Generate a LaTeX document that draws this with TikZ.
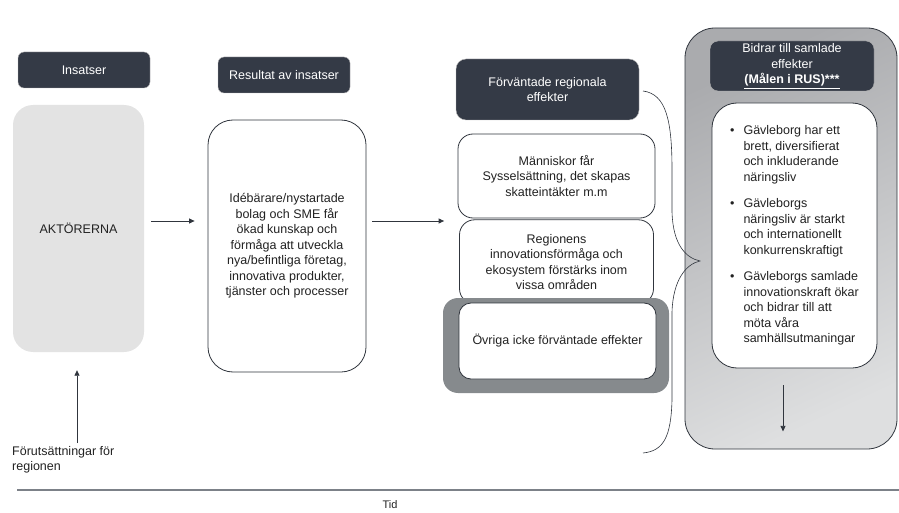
\documentclass[tikz,border=0pt]{standalone}
\usepackage{fontspec}
\setmainfont{Liberation Sans}
\usetikzlibrary{arrows.meta,positioning}
\definecolor{boxdark}{HTML}{343A46}
\definecolor{linedark}{HTML}{30353D}
\definecolor{textdark}{HTML}{222222}
\definecolor{actorgray}{HTML}{E3E3E3}
\definecolor{framegray}{HTML}{868A8D}
\definecolor{axisgray}{HTML}{7C8188}
\definecolor{shadedark}{HTML}{AAABAE}
\definecolor{shadelight}{HTML}{DEDFE0}

\begin{document}
\begin{tikzpicture}[x=1pt,y=-1pt,
    every node/.style={font=\fontsize{12.5}{15.5}\selectfont,text=textdark},
    headbox/.style={fill=boxdark,draw=black!28,rounded corners=6pt,
      text=white,align=center,inner sep=0pt},
    stagebox/.style={fill=white,draw=linedark,line width=0.8pt,
      align=center,inner sep=0pt},
    flow/.style={draw=linedark,line width=0.8pt,
      -{Triangle[length=5.5pt,width=5pt]}}]
  \useasboundingbox (0,0) rectangle (899,513);

  % The large shaded column on the right holds the overall effects.
  \node[draw=linedark,line width=0.8pt,rounded corners=30pt,
    shading=axis,top color=shadedark,bottom color=shadelight,
    shading angle=25,minimum width=212pt,minimum height=421pt]
    (samlad) at (791,238.5) {};

  % Column headings.
  \node[headbox,minimum width=132pt,minimum height=36pt]
    (insatser) at (84,70) {Insatser};
  \node[headbox,minimum width=132pt,minimum height=36pt]
    (resultat) at (284,75) {Resultat av insatser};
  \node[headbox,rounded corners=10pt,minimum width=183pt,minimum height=61pt]
    (forv) at (547.5,89.5) {Förväntade regionala\\effekter};
  \node[headbox,rounded corners=8pt,minimum width=164pt,minimum height=50pt]
    (bidrar) at (792,66)
    {Bidrar till samlade\\effekter\\\textbf{\underline{(Målen i RUS)***}}};

  % The actors, and what their work leads to.
  \node[fill=actorgray,rounded corners=20pt,inner sep=0pt,
    minimum width=131pt,minimum height=247pt]
    (akt) at (78.5,228.5) {AKTÖRERNA};
  \node[stagebox,rounded corners=25pt,minimum width=158pt,minimum height=252pt]
    (ide) at (287,246)
    {Idébärare/nystartade\\bolag och SME får\\ökad kunskap och\\förmåga att utveckla\\
     nya/befintliga företag,\\innovativa produkter,\\tjänster och processer};

  % Expected regional effects, stacked.
  \node[stagebox,rounded corners=15pt,minimum width=197pt,minimum height=84pt]
    (man) at (556.5,176)
    {Människor får\\Sysselsättning, det skapas\\skatteintäkter m.m};
  \node[stagebox,rounded corners=15pt,minimum width=194pt,minimum height=84pt,
    below=1pt of man]
    (reg) {Regionens\\innovationsförmåga och\\ekosystem förstärks inom\\vissa områden};
  \node[fill=framegray,rounded corners=15pt,minimum width=226pt,minimum height=95pt]
    (ovrframe) at (556,345.5) {};
  \node[stagebox,rounded corners=12pt,minimum width=197pt,minimum height=76pt]
    (ovr) at (557.5,341) {Övriga icke förväntade effekter};

  % The three goals of the regional strategy.
  \node[stagebox,rounded corners=25pt,minimum width=165pt,minimum height=265pt]
    (goals) at (794.5,235.5)
    {\begin{tabular}{@{}l@{\hspace{9pt}}l@{}}
      \textbullet & Gävleborg har ett\\
       & brett, diversifierat\\
       & och inkluderande\\
       & näringsliv\\[11pt]
      \textbullet & Gävleborgs\\
       & näringsliv är starkt\\
       & och internationellt\\
       & konkurrenskraftigt\\[11pt]
      \textbullet & Gävleborgs samlade\\
       & innovationskraft ökar\\
       & och bidrar till att\\
       & möta våra\\
       & samhällsutmaningar
    \end{tabular}};

  % Preconditions and the time axis.
  \node[anchor=north west,align=left,inner sep=0pt]
    (pre) at (12,446) {Förutsättningar för\\regionen};
  \coordinate (prebase) at (77,443);
  \draw[axisgray,line width=1.1pt] (17,490) -- (899,490);
  \node[font=\fontsize{11}{13}\selectfont] (tid) at (390,505) {Tid};

  % Flow from left to right.
  \coordinate (row) at (0,221);
  \draw[flow,shorten <=7pt,shorten >=13pt] (akt.east |- row) -- (ide.west |- row);
  \draw[flow,shorten <=6pt,shorten >=15pt] (ide.east |- row) -- (reg.west |- row);
  \draw[flow,shorten >=18pt] (prebase) -- (akt.south -| prebase);
  \draw[flow] ([xshift=-11.5pt,yshift=-17pt]goals.south)
    -- ([xshift=-8pt,yshift=18pt]samlad.south);

  % Brace gathering the regional effects towards the goals.
  \coordinate (bracetip) at (700,261);
  \draw[linedark,line width=0.6pt]
    (643,91) .. controls (666,94) and (672,120) .. (672,170)
    -- (672,212) .. controls (673,245) and (686,258) .. (bracetip)
    .. controls (686,264) and (673,280) .. (672,312)
    -- (672,400) .. controls (671,436) and (664,451) .. (643,453);
\end{tikzpicture}
\end{document}
